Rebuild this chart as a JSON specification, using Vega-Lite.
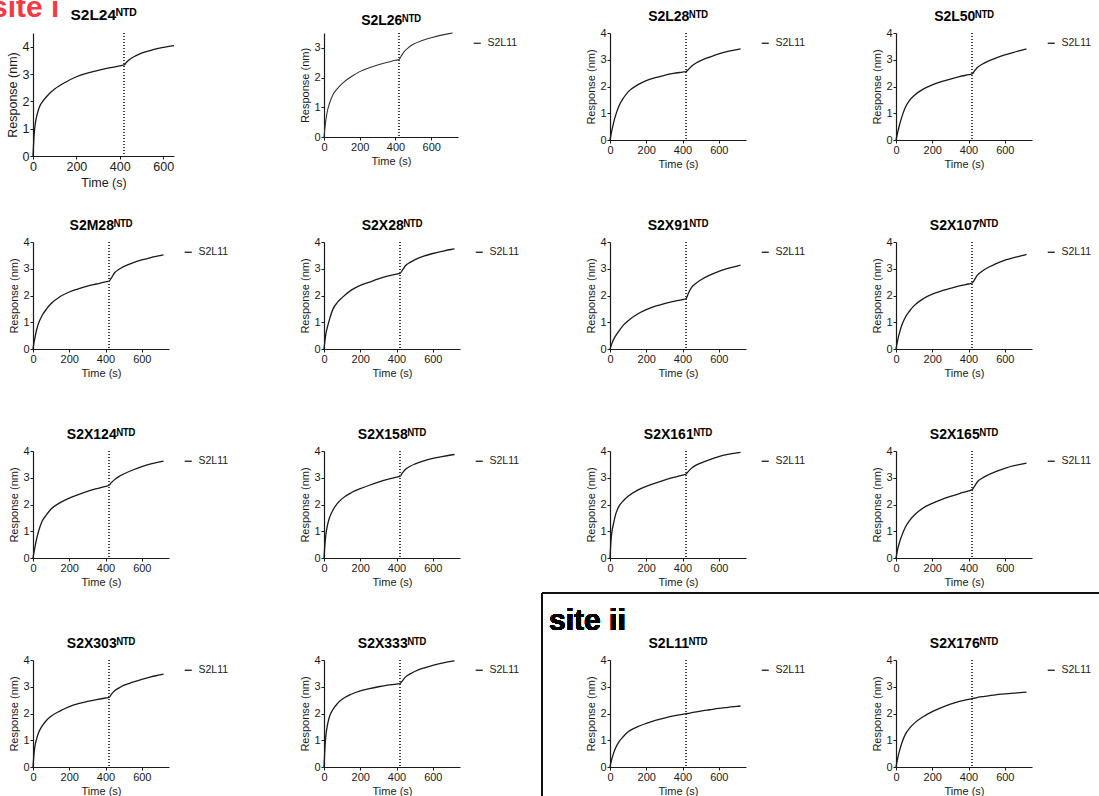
{
"$schema": "https://vega.github.io/schema/vega-lite/v6.json",
"padding": {"left": -9, "top": -7, "right": 0, "bottom": 0},
"title": {"text": "site i", "color": "#f23a45", "fontSize": 30, "fontWeight": "bold", "anchor": "start", "frame": "bounds", "offset": -15, "dx": -15},
"config": {
 "font": "Liberation Sans",
 "background": "white",
 "view": {"stroke": null},
 "axis": {"grid": false, "domainColor": "#1a1a1a", "domainWidth": 1.2, "tickColor": "#1a1a1a", "tickSize": 3, "tickWidth": 1, "labelColor": "#1a1a1a", "labelFontSize": 11, "labelPadding": 1, "labelFlush": false, "labelOverlap": false, "titleColor": "#1a1a1a", "titleFontSize": 11, "titleFontWeight": "normal", "titlePadding": 3},
 "title": {"fontSize": 14, "fontWeight": "bold", "color": "#000", "anchor": "middle", "frame": "group", "offset": 3},
 "legend": {"orient": "right", "offset": 9, "padding": 5, "symbolType": "stroke", "symbolSize": 50, "symbolStrokeWidth": 1.3, "labelFontSize": 10.5, "labelColor": "#1a1a1a", "labelOffset": 5}
},
"resolve": {"scale": {"x": "independent", "y": "independent", "color": "independent"}, "legend": {"color": "independent"}, "axis": {"x": "independent", "y": "independent"}},
"columns": 4,
"spacing": {"row": 86, "column": 150},
"bounds": "flush",
"align": {"row": "all", "column": "each"},
"datasets": {
"S2L24": [{"t":0,"r":0},{"t":5,"r":0.75},{"t":10,"r":1.15},{"t":20,"r":1.55},{"t":30,"r":1.8},{"t":50,"r":2.05},{"t":75,"r":2.28},{"t":100,"r":2.45},{"t":150,"r":2.7},{"t":200,"r":2.9},{"t":250,"r":3.03},{"t":300,"r":3.13},{"t":350,"r":3.22},{"t":400,"r":3.3},{"t":420,"r":3.33},{"t":430,"r":3.42},{"t":450,"r":3.56},{"t":475,"r":3.67},{"t":500,"r":3.76},{"t":550,"r":3.88},{"t":600,"r":3.97},{"t":650,"r":4.04}],
"S2L26": [{"t":0,"r":0},{"t":5,"r":0.3},{"t":10,"r":0.55},{"t":20,"r":0.9},{"t":30,"r":1.12},{"t":50,"r":1.42},{"t":75,"r":1.63},{"t":100,"r":1.79},{"t":150,"r":2.02},{"t":200,"r":2.2},{"t":250,"r":2.32},{"t":300,"r":2.42},{"t":350,"r":2.51},{"t":400,"r":2.58},{"t":420,"r":2.61},{"t":430,"r":2.7},{"t":450,"r":2.88},{"t":475,"r":3.02},{"t":500,"r":3.12},{"t":550,"r":3.25},{"t":600,"r":3.34},{"t":650,"r":3.42},{"t":700,"r":3.48},{"t":720,"r":3.5}],
"S2L28": [{"t":0,"r":0},{"t":5,"r":0.18},{"t":10,"r":0.35},{"t":20,"r":0.65},{"t":30,"r":0.9},{"t":50,"r":1.28},{"t":75,"r":1.58},{"t":100,"r":1.8},{"t":150,"r":2.05},{"t":200,"r":2.22},{"t":250,"r":2.33},{"t":300,"r":2.42},{"t":350,"r":2.49},{"t":400,"r":2.54},{"t":420,"r":2.56},{"t":430,"r":2.62},{"t":450,"r":2.76},{"t":475,"r":2.88},{"t":500,"r":2.97},{"t":550,"r":3.1},{"t":600,"r":3.22},{"t":650,"r":3.31},{"t":700,"r":3.38},{"t":720,"r":3.41}],
"S2L50": [{"t":0,"r":0},{"t":5,"r":0.15},{"t":10,"r":0.3},{"t":20,"r":0.58},{"t":30,"r":0.82},{"t":50,"r":1.2},{"t":75,"r":1.48},{"t":100,"r":1.66},{"t":150,"r":1.9},{"t":200,"r":2.06},{"t":250,"r":2.18},{"t":300,"r":2.28},{"t":350,"r":2.37},{"t":400,"r":2.44},{"t":420,"r":2.47},{"t":430,"r":2.55},{"t":450,"r":2.72},{"t":475,"r":2.83},{"t":500,"r":2.92},{"t":550,"r":3.06},{"t":600,"r":3.18},{"t":650,"r":3.28},{"t":700,"r":3.37},{"t":720,"r":3.41}],
"S2M28": [{"t":0,"r":0},{"t":5,"r":0.22},{"t":10,"r":0.4},{"t":20,"r":0.72},{"t":30,"r":0.95},{"t":50,"r":1.25},{"t":75,"r":1.5},{"t":100,"r":1.7},{"t":150,"r":1.96},{"t":200,"r":2.13},{"t":250,"r":2.25},{"t":300,"r":2.35},{"t":350,"r":2.43},{"t":400,"r":2.51},{"t":420,"r":2.54},{"t":430,"r":2.63},{"t":450,"r":2.85},{"t":475,"r":2.98},{"t":500,"r":3.08},{"t":550,"r":3.22},{"t":600,"r":3.33},{"t":650,"r":3.42},{"t":700,"r":3.49},{"t":720,"r":3.52}],
"S2X28": [{"t":0,"r":0},{"t":5,"r":0.3},{"t":10,"r":0.55},{"t":20,"r":0.85},{"t":30,"r":1.1},{"t":50,"r":1.5},{"t":75,"r":1.75},{"t":100,"r":1.92},{"t":150,"r":2.2},{"t":200,"r":2.38},{"t":250,"r":2.5},{"t":300,"r":2.62},{"t":350,"r":2.72},{"t":400,"r":2.8},{"t":420,"r":2.83},{"t":430,"r":2.92},{"t":450,"r":3.12},{"t":475,"r":3.24},{"t":500,"r":3.33},{"t":550,"r":3.47},{"t":600,"r":3.57},{"t":650,"r":3.65},{"t":700,"r":3.72},{"t":720,"r":3.74}],
"S2X91": [{"t":0,"r":0},{"t":5,"r":0.1},{"t":10,"r":0.2},{"t":20,"r":0.36},{"t":30,"r":0.48},{"t":50,"r":0.68},{"t":75,"r":0.9},{"t":100,"r":1.06},{"t":150,"r":1.3},{"t":200,"r":1.47},{"t":250,"r":1.6},{"t":300,"r":1.7},{"t":350,"r":1.78},{"t":400,"r":1.85},{"t":420,"r":1.89},{"t":430,"r":2.05},{"t":450,"r":2.3},{"t":475,"r":2.46},{"t":500,"r":2.58},{"t":550,"r":2.76},{"t":600,"r":2.9},{"t":650,"r":3.01},{"t":700,"r":3.1},{"t":720,"r":3.14}],
"S2X107": [{"t":0,"r":0},{"t":5,"r":0.18},{"t":10,"r":0.35},{"t":20,"r":0.62},{"t":30,"r":0.85},{"t":50,"r":1.17},{"t":75,"r":1.42},{"t":100,"r":1.62},{"t":150,"r":1.88},{"t":200,"r":2.05},{"t":250,"r":2.17},{"t":300,"r":2.27},{"t":350,"r":2.36},{"t":400,"r":2.43},{"t":420,"r":2.46},{"t":430,"r":2.56},{"t":450,"r":2.77},{"t":475,"r":2.91},{"t":500,"r":3.02},{"t":550,"r":3.18},{"t":600,"r":3.32},{"t":650,"r":3.42},{"t":700,"r":3.5},{"t":720,"r":3.54}],
"S2X124": [{"t":0,"r":0},{"t":5,"r":0.2},{"t":10,"r":0.38},{"t":20,"r":0.72},{"t":30,"r":0.98},{"t":50,"r":1.37},{"t":75,"r":1.62},{"t":100,"r":1.83},{"t":150,"r":2.07},{"t":200,"r":2.24},{"t":250,"r":2.37},{"t":300,"r":2.49},{"t":350,"r":2.59},{"t":400,"r":2.68},{"t":420,"r":2.72},{"t":430,"r":2.8},{"t":450,"r":2.93},{"t":475,"r":3.05},{"t":500,"r":3.14},{"t":550,"r":3.29},{"t":600,"r":3.42},{"t":650,"r":3.52},{"t":700,"r":3.59},{"t":720,"r":3.62}],
"S2X158": [{"t":0,"r":0},{"t":5,"r":0.5},{"t":10,"r":0.85},{"t":20,"r":1.25},{"t":30,"r":1.5},{"t":50,"r":1.8},{"t":75,"r":2.05},{"t":100,"r":2.22},{"t":150,"r":2.44},{"t":200,"r":2.59},{"t":250,"r":2.72},{"t":300,"r":2.84},{"t":350,"r":2.94},{"t":400,"r":3.02},{"t":420,"r":3.06},{"t":430,"r":3.16},{"t":450,"r":3.32},{"t":475,"r":3.43},{"t":500,"r":3.51},{"t":550,"r":3.63},{"t":600,"r":3.72},{"t":650,"r":3.79},{"t":700,"r":3.85},{"t":720,"r":3.87}],
"S2X161": [{"t":0,"r":0},{"t":5,"r":0.6},{"t":10,"r":0.95},{"t":20,"r":1.3},{"t":30,"r":1.6},{"t":50,"r":1.94},{"t":75,"r":2.15},{"t":100,"r":2.31},{"t":150,"r":2.53},{"t":200,"r":2.68},{"t":250,"r":2.8},{"t":300,"r":2.91},{"t":350,"r":3.01},{"t":400,"r":3.1},{"t":420,"r":3.14},{"t":430,"r":3.22},{"t":450,"r":3.36},{"t":475,"r":3.47},{"t":500,"r":3.55},{"t":550,"r":3.68},{"t":600,"r":3.79},{"t":650,"r":3.87},{"t":700,"r":3.93},{"t":720,"r":3.95}],
"S2X165": [{"t":0,"r":0},{"t":5,"r":0.18},{"t":10,"r":0.35},{"t":20,"r":0.6},{"t":30,"r":0.8},{"t":50,"r":1.13},{"t":75,"r":1.4},{"t":100,"r":1.6},{"t":150,"r":1.87},{"t":200,"r":2.04},{"t":250,"r":2.18},{"t":300,"r":2.3},{"t":350,"r":2.41},{"t":400,"r":2.51},{"t":420,"r":2.56},{"t":430,"r":2.65},{"t":450,"r":2.86},{"t":475,"r":2.98},{"t":500,"r":3.08},{"t":550,"r":3.23},{"t":600,"r":3.35},{"t":650,"r":3.45},{"t":700,"r":3.52},{"t":720,"r":3.55}],
"S2X303": [{"t":0,"r":0},{"t":5,"r":0.45},{"t":10,"r":0.75},{"t":20,"r":1.05},{"t":30,"r":1.27},{"t":50,"r":1.53},{"t":75,"r":1.75},{"t":100,"r":1.9},{"t":150,"r":2.1},{"t":200,"r":2.26},{"t":250,"r":2.37},{"t":300,"r":2.45},{"t":350,"r":2.52},{"t":400,"r":2.58},{"t":420,"r":2.6},{"t":430,"r":2.7},{"t":450,"r":2.85},{"t":475,"r":2.96},{"t":500,"r":3.05},{"t":550,"r":3.17},{"t":600,"r":3.28},{"t":650,"r":3.37},{"t":700,"r":3.44},{"t":720,"r":3.47}],
"S2X333": [{"t":0,"r":0},{"t":5,"r":0.7},{"t":10,"r":1.15},{"t":20,"r":1.6},{"t":30,"r":1.88},{"t":50,"r":2.16},{"t":75,"r":2.38},{"t":100,"r":2.53},{"t":150,"r":2.72},{"t":200,"r":2.85},{"t":250,"r":2.93},{"t":300,"r":3.0},{"t":350,"r":3.06},{"t":400,"r":3.1},{"t":420,"r":3.12},{"t":430,"r":3.2},{"t":450,"r":3.37},{"t":475,"r":3.48},{"t":500,"r":3.57},{"t":550,"r":3.7},{"t":600,"r":3.8},{"t":650,"r":3.88},{"t":700,"r":3.95},{"t":720,"r":3.97}],
"S2L11": [{"t":0,"r":0},{"t":5,"r":0.16},{"t":10,"r":0.3},{"t":20,"r":0.52},{"t":30,"r":0.7},{"t":50,"r":0.95},{"t":75,"r":1.15},{"t":100,"r":1.32},{"t":150,"r":1.5},{"t":200,"r":1.63},{"t":250,"r":1.74},{"t":300,"r":1.83},{"t":350,"r":1.91},{"t":400,"r":1.97},{"t":420,"r":1.99},{"t":430,"r":2.0},{"t":450,"r":2.03},{"t":475,"r":2.06},{"t":500,"r":2.09},{"t":550,"r":2.14},{"t":600,"r":2.19},{"t":650,"r":2.23},{"t":700,"r":2.27},{"t":720,"r":2.28}],
"S2X176": [{"t":0,"r":0},{"t":5,"r":0.18},{"t":10,"r":0.35},{"t":20,"r":0.62},{"t":30,"r":0.85},{"t":50,"r":1.2},{"t":75,"r":1.45},{"t":100,"r":1.63},{"t":150,"r":1.88},{"t":200,"r":2.07},{"t":250,"r":2.22},{"t":300,"r":2.35},{"t":350,"r":2.45},{"t":400,"r":2.53},{"t":420,"r":2.56},{"t":430,"r":2.57},{"t":450,"r":2.6},{"t":475,"r":2.63},{"t":500,"r":2.65},{"t":550,"r":2.7},{"t":600,"r":2.73},{"t":650,"r":2.76},{"t":700,"r":2.79},{"t":720,"r":2.8}]
},
"concat": [
{"width": 141, "height": 123, "title": {"text": "S2L24ᴺᵀᴰ", "fontSize": 15.5, "offset": 9}, "data": {"name": "S2L24"},
 "layer": [
  {"mark": {"type": "line", "interpolate": "monotone", "color": "#1a1a1a", "strokeWidth": 1.3},
   "encoding": {"x": {"field": "t", "type": "quantitative", "title": "Time (s)", "scale": {"domain": [0, 650], "nice": false}, "axis": {"values": [0,200,400,600], "labelFontSize": 12.5, "titleFontSize": 12.5, "titlePadding": 4}},
                "y": {"field": "r", "type": "quantitative", "title": "Response (nm)", "scale": {"domain": [0, 4.5], "nice": false}, "axis": {"values": [0,1,2,3,4], "labelFontSize": 12.5, "titleFontSize": 12.5}}}},
  {"mark": {"type": "rule", "strokeDash": [1, 2], "strokeWidth": 1, "color": "#444"}, "encoding": {"x": {"datum": 420, "type": "quantitative"}}}
 ]},
{"width": 134, "height": 104, "title": "S2L26ᴺᵀᴰ", "data": {"name": "S2L26"},
 "layer": [
  {"mark": {"type": "line", "interpolate": "monotone", "strokeWidth": 1.1},
   "encoding": {"x": {"field": "t", "type": "quantitative", "title": "Time (s)", "scale": {"domain": [0, 750], "nice": false}, "axis": {"values": [0,200,400,600]}},
                "y": {"field": "r", "type": "quantitative", "title": "Response (nm)", "scale": {"domain": [0, 3.5], "nice": false}, "axis": {"values": [0,1,2,3]}},
                "color": {"datum": "S2L11", "type": "nominal", "scale": {"range": ["#333333"]}, "legend": {"title": null}}}},
  {"mark": {"type": "rule", "strokeDash": [1, 2], "strokeWidth": 1, "color": "#444"}, "encoding": {"x": {"datum": 420, "type": "quantitative"}}}
 ]},
{"width": 136, "height": 107, "title": "S2L28ᴺᵀᴰ", "data": {"name": "S2L28"},
 "layer": [
  {"mark": {"type": "line", "interpolate": "monotone", "strokeWidth": 1.3},
   "encoding": {"x": {"field": "t", "type": "quantitative", "title": "Time (s)", "scale": {"domain": [0, 750], "nice": false}, "axis": {"values": [0,200,400,600]}},
                "y": {"field": "r", "type": "quantitative", "title": "Response (nm)", "scale": {"domain": [0, 4], "nice": false}, "axis": {"values": [0,1,2,3,4]}},
                "color": {"datum": "S2L11", "type": "nominal", "scale": {"range": ["#1a1a1a"]}, "legend": {"title": null}}}},
  {"mark": {"type": "rule", "strokeDash": [1, 2], "strokeWidth": 1, "color": "#444"}, "encoding": {"x": {"datum": 420, "type": "quantitative"}}}
 ]},
{"width": 136, "height": 107, "title": "S2L50ᴺᵀᴰ", "data": {"name": "S2L50"},
 "layer": [
  {"mark": {"type": "line", "interpolate": "monotone", "strokeWidth": 1.3},
   "encoding": {"x": {"field": "t", "type": "quantitative", "title": "Time (s)", "scale": {"domain": [0, 750], "nice": false}, "axis": {"values": [0,200,400,600]}},
                "y": {"field": "r", "type": "quantitative", "title": "Response (nm)", "scale": {"domain": [0, 4], "nice": false}, "axis": {"values": [0,1,2,3,4]}},
                "color": {"datum": "S2L11", "type": "nominal", "scale": {"range": ["#1a1a1a"]}, "legend": {"title": null}}}},
  {"mark": {"type": "rule", "strokeDash": [1, 2], "strokeWidth": 1, "color": "#444"}, "encoding": {"x": {"datum": 420, "type": "quantitative"}}}
 ]},
{"width": 136, "height": 107, "title": "S2M28ᴺᵀᴰ", "data": {"name": "S2M28"},
 "layer": [
  {"mark": {"type": "line", "interpolate": "monotone", "strokeWidth": 1.3},
   "encoding": {"x": {"field": "t", "type": "quantitative", "title": "Time (s)", "scale": {"domain": [0, 750], "nice": false}, "axis": {"values": [0,200,400,600]}},
                "y": {"field": "r", "type": "quantitative", "title": "Response (nm)", "scale": {"domain": [0, 4], "nice": false}, "axis": {"values": [0,1,2,3,4]}},
                "color": {"datum": "S2L11", "type": "nominal", "scale": {"range": ["#1a1a1a"]}, "legend": {"title": null}}}},
  {"mark": {"type": "rule", "strokeDash": [1, 2], "strokeWidth": 1, "color": "#444"}, "encoding": {"x": {"datum": 420, "type": "quantitative"}}}
 ]},
{"width": 136, "height": 107, "title": "S2X28ᴺᵀᴰ", "data": {"name": "S2X28"},
 "layer": [
  {"mark": {"type": "line", "interpolate": "monotone", "strokeWidth": 1.3},
   "encoding": {"x": {"field": "t", "type": "quantitative", "title": "Time (s)", "scale": {"domain": [0, 750], "nice": false}, "axis": {"values": [0,200,400,600]}},
                "y": {"field": "r", "type": "quantitative", "title": "Response (nm)", "scale": {"domain": [0, 4], "nice": false}, "axis": {"values": [0,1,2,3,4]}},
                "color": {"datum": "S2L11", "type": "nominal", "scale": {"range": ["#1a1a1a"]}, "legend": {"title": null}}}},
  {"mark": {"type": "rule", "strokeDash": [1, 2], "strokeWidth": 1, "color": "#444"}, "encoding": {"x": {"datum": 420, "type": "quantitative"}}}
 ]},
{"width": 136, "height": 107, "title": "S2X91ᴺᵀᴰ", "data": {"name": "S2X91"},
 "layer": [
  {"mark": {"type": "line", "interpolate": "monotone", "strokeWidth": 1.3},
   "encoding": {"x": {"field": "t", "type": "quantitative", "title": "Time (s)", "scale": {"domain": [0, 750], "nice": false}, "axis": {"values": [0,200,400,600]}},
                "y": {"field": "r", "type": "quantitative", "title": "Response (nm)", "scale": {"domain": [0, 4], "nice": false}, "axis": {"values": [0,1,2,3,4]}},
                "color": {"datum": "S2L11", "type": "nominal", "scale": {"range": ["#1a1a1a"]}, "legend": {"title": null}}}},
  {"mark": {"type": "rule", "strokeDash": [1, 2], "strokeWidth": 1, "color": "#444"}, "encoding": {"x": {"datum": 420, "type": "quantitative"}}}
 ]},
{"width": 136, "height": 107, "title": "S2X107ᴺᵀᴰ", "data": {"name": "S2X107"},
 "layer": [
  {"mark": {"type": "line", "interpolate": "monotone", "strokeWidth": 1.3},
   "encoding": {"x": {"field": "t", "type": "quantitative", "title": "Time (s)", "scale": {"domain": [0, 750], "nice": false}, "axis": {"values": [0,200,400,600]}},
                "y": {"field": "r", "type": "quantitative", "title": "Response (nm)", "scale": {"domain": [0, 4], "nice": false}, "axis": {"values": [0,1,2,3,4]}},
                "color": {"datum": "S2L11", "type": "nominal", "scale": {"range": ["#1a1a1a"]}, "legend": {"title": null}}}},
  {"mark": {"type": "rule", "strokeDash": [1, 2], "strokeWidth": 1, "color": "#444"}, "encoding": {"x": {"datum": 420, "type": "quantitative"}}}
 ]},
{"width": 136, "height": 107, "title": "S2X124ᴺᵀᴰ", "data": {"name": "S2X124"},
 "layer": [
  {"mark": {"type": "line", "interpolate": "monotone", "strokeWidth": 1.3},
   "encoding": {"x": {"field": "t", "type": "quantitative", "title": "Time (s)", "scale": {"domain": [0, 750], "nice": false}, "axis": {"values": [0,200,400,600]}},
                "y": {"field": "r", "type": "quantitative", "title": "Response (nm)", "scale": {"domain": [0, 4], "nice": false}, "axis": {"values": [0,1,2,3,4]}},
                "color": {"datum": "S2L11", "type": "nominal", "scale": {"range": ["#1a1a1a"]}, "legend": {"title": null}}}},
  {"mark": {"type": "rule", "strokeDash": [1, 2], "strokeWidth": 1, "color": "#444"}, "encoding": {"x": {"datum": 420, "type": "quantitative"}}}
 ]},
{"width": 136, "height": 107, "title": "S2X158ᴺᵀᴰ", "data": {"name": "S2X158"},
 "layer": [
  {"mark": {"type": "line", "interpolate": "monotone", "strokeWidth": 1.3},
   "encoding": {"x": {"field": "t", "type": "quantitative", "title": "Time (s)", "scale": {"domain": [0, 750], "nice": false}, "axis": {"values": [0,200,400,600]}},
                "y": {"field": "r", "type": "quantitative", "title": "Response (nm)", "scale": {"domain": [0, 4], "nice": false}, "axis": {"values": [0,1,2,3,4]}},
                "color": {"datum": "S2L11", "type": "nominal", "scale": {"range": ["#1a1a1a"]}, "legend": {"title": null}}}},
  {"mark": {"type": "rule", "strokeDash": [1, 2], "strokeWidth": 1, "color": "#444"}, "encoding": {"x": {"datum": 420, "type": "quantitative"}}}
 ]},
{"width": 136, "height": 107, "title": "S2X161ᴺᵀᴰ", "data": {"name": "S2X161"},
 "layer": [
  {"mark": {"type": "line", "interpolate": "monotone", "strokeWidth": 1.3},
   "encoding": {"x": {"field": "t", "type": "quantitative", "title": "Time (s)", "scale": {"domain": [0, 750], "nice": false}, "axis": {"values": [0,200,400,600]}},
                "y": {"field": "r", "type": "quantitative", "title": "Response (nm)", "scale": {"domain": [0, 4], "nice": false}, "axis": {"values": [0,1,2,3,4]}},
                "color": {"datum": "S2L11", "type": "nominal", "scale": {"range": ["#1a1a1a"]}, "legend": {"title": null}}}},
  {"mark": {"type": "rule", "strokeDash": [1, 2], "strokeWidth": 1, "color": "#444"}, "encoding": {"x": {"datum": 420, "type": "quantitative"}}},
  {"mark": {"type": "rule", "color": "#111", "strokeWidth": 1.6}, "encoding": {"x": {"datum": -375, "type": "quantitative", "title": "Time (s)", "axis": {"values": [0,200,400,600]}}, "y": {"datum": -1.31, "type": "quantitative", "title": "Response (nm)", "axis": {"values": [0,1,2,3,4]}}, "y2": {"datum": -8.9}}},
  {"mark": {"type": "rule", "color": "#111", "strokeWidth": 1.6}, "encoding": {"x": {"datum": -375, "type": "quantitative", "title": "Time (s)", "axis": {"values": [0,200,400,600]}}, "x2": {"datum": 2700}, "y": {"datum": -1.31, "type": "quantitative", "title": "Response (nm)", "axis": {"values": [0,1,2,3,4]}}}},
  {"mark": {"type": "text", "text": "site ii", "align": "left", "baseline": "alphabetic", "fontSize": 30, "fontWeight": "bold", "color": "#000"}, "encoding": {"x": {"datum": -336, "type": "quantitative", "title": "Time (s)", "axis": {"values": [0,200,400,600]}}, "y": {"datum": -2.69, "type": "quantitative", "title": "Response (nm)", "axis": {"values": [0,1,2,3,4]}}}}
 ]},
{"width": 136, "height": 107, "title": "S2X165ᴺᵀᴰ", "data": {"name": "S2X165"},
 "layer": [
  {"mark": {"type": "line", "interpolate": "monotone", "strokeWidth": 1.3},
   "encoding": {"x": {"field": "t", "type": "quantitative", "title": "Time (s)", "scale": {"domain": [0, 750], "nice": false}, "axis": {"values": [0,200,400,600]}},
                "y": {"field": "r", "type": "quantitative", "title": "Response (nm)", "scale": {"domain": [0, 4], "nice": false}, "axis": {"values": [0,1,2,3,4]}},
                "color": {"datum": "S2L11", "type": "nominal", "scale": {"range": ["#1a1a1a"]}, "legend": {"title": null}}}},
  {"mark": {"type": "rule", "strokeDash": [1, 2], "strokeWidth": 1, "color": "#444"}, "encoding": {"x": {"datum": 420, "type": "quantitative"}}}
 ]},
{"width": 136, "height": 107, "title": "S2X303ᴺᵀᴰ", "data": {"name": "S2X303"},
 "layer": [
  {"mark": {"type": "line", "interpolate": "monotone", "strokeWidth": 1.3},
   "encoding": {"x": {"field": "t", "type": "quantitative", "title": "Time (s)", "scale": {"domain": [0, 750], "nice": false}, "axis": {"values": [0,200,400,600]}},
                "y": {"field": "r", "type": "quantitative", "title": "Response (nm)", "scale": {"domain": [0, 4], "nice": false}, "axis": {"values": [0,1,2,3,4]}},
                "color": {"datum": "S2L11", "type": "nominal", "scale": {"range": ["#1a1a1a"]}, "legend": {"title": null}}}},
  {"mark": {"type": "rule", "strokeDash": [1, 2], "strokeWidth": 1, "color": "#444"}, "encoding": {"x": {"datum": 420, "type": "quantitative"}}}
 ]},
{"width": 136, "height": 107, "title": "S2X333ᴺᵀᴰ", "data": {"name": "S2X333"},
 "layer": [
  {"mark": {"type": "line", "interpolate": "monotone", "strokeWidth": 1.3},
   "encoding": {"x": {"field": "t", "type": "quantitative", "title": "Time (s)", "scale": {"domain": [0, 750], "nice": false}, "axis": {"values": [0,200,400,600]}},
                "y": {"field": "r", "type": "quantitative", "title": "Response (nm)", "scale": {"domain": [0, 4], "nice": false}, "axis": {"values": [0,1,2,3,4]}},
                "color": {"datum": "S2L11", "type": "nominal", "scale": {"range": ["#1a1a1a"]}, "legend": {"title": null}}}},
  {"mark": {"type": "rule", "strokeDash": [1, 2], "strokeWidth": 1, "color": "#444"}, "encoding": {"x": {"datum": 420, "type": "quantitative"}}}
 ]},
{"width": 136, "height": 107, "title": "S2L11ᴺᵀᴰ", "data": {"name": "S2L11"},
 "layer": [
  {"mark": {"type": "line", "interpolate": "monotone", "strokeWidth": 1.3},
   "encoding": {"x": {"field": "t", "type": "quantitative", "title": "Time (s)", "scale": {"domain": [0, 750], "nice": false}, "axis": {"values": [0,200,400,600]}},
                "y": {"field": "r", "type": "quantitative", "title": "Response (nm)", "scale": {"domain": [0, 4], "nice": false}, "axis": {"values": [0,1,2,3,4]}},
                "color": {"datum": "S2L11", "type": "nominal", "scale": {"range": ["#1a1a1a"]}, "legend": {"title": null}}}},
  {"mark": {"type": "rule", "strokeDash": [1, 2], "strokeWidth": 1, "color": "#444"}, "encoding": {"x": {"datum": 420, "type": "quantitative"}}}
 ]},
{"width": 136, "height": 107, "title": "S2X176ᴺᵀᴰ", "data": {"name": "S2X176"},
 "layer": [
  {"mark": {"type": "line", "interpolate": "monotone", "strokeWidth": 1.3},
   "encoding": {"x": {"field": "t", "type": "quantitative", "title": "Time (s)", "scale": {"domain": [0, 750], "nice": false}, "axis": {"values": [0,200,400,600]}},
                "y": {"field": "r", "type": "quantitative", "title": "Response (nm)", "scale": {"domain": [0, 4], "nice": false}, "axis": {"values": [0,1,2,3,4]}},
                "color": {"datum": "S2L11", "type": "nominal", "scale": {"range": ["#1a1a1a"]}, "legend": {"title": null}}}},
  {"mark": {"type": "rule", "strokeDash": [1, 2], "strokeWidth": 1, "color": "#444"}, "encoding": {"x": {"datum": 420, "type": "quantitative"}}}
 ]}
]
}
